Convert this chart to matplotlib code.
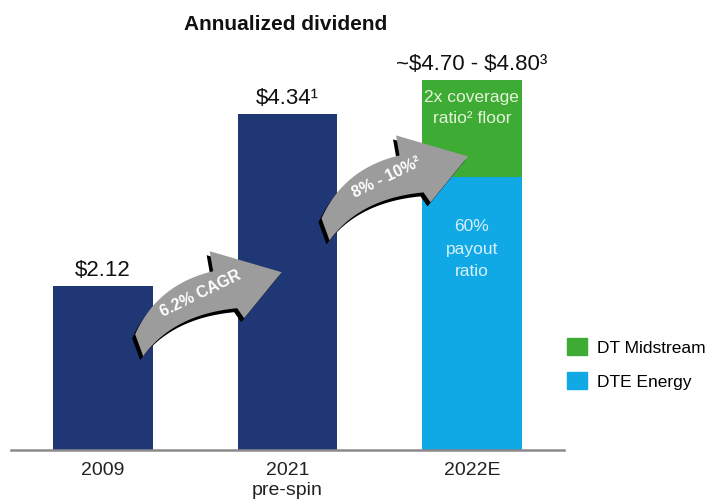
import numpy as np
import matplotlib
matplotlib.use('Agg')
import matplotlib.pyplot as plt
from matplotlib.patches import Polygon, Patch
from matplotlib.transforms import IdentityTransform

years = ['2009', '2021\npre-spin', '2022E']
dividend = [2.12, 4.34]
dte_energy = 3.52
dt_midstream = 1.26
value_labels = [r'\$2.12', '\\$4.34\u00b9', '~\\$4.70 - \\$4.80\u00b3']
growth_labels = ['6.2% CAGR', '8% - 10%\u00b2']
growth_tails = [(0.198, 1.353), (1.209, 2.848)]
series_names = ['DT Midstream', 'DTE Energy']

navy = '#1f3775'
green = '#3dab34'
blue = '#10a9e6'
arrow_gray = '#9c9c9c'

plt.rcParams['font.family'] = ['Liberation Sans', 'DejaVu Sans']

fig = plt.figure(figsize=(7.11, 5.02), dpi=100)
ax = fig.add_axes([11 / 711, 51 / 502, 553 / 711, 426 / 502])
pos = np.arange(len(years))
width = 0.54

ax.bar(pos[:2], dividend, width, color=navy)
ax.bar(pos[2], dte_energy, width, color=blue)
ax.bar(pos[2], dt_midstream, width, bottom=dte_energy, color=green)

ax.set_xlim(-0.5, 2.5)
ax.set_ylim(0, 5.5)
ax.set_xticks(pos)
ax.set_xticklabels(years, fontsize=14, color='#222222', linespacing=1.2)
ax.tick_params(length=0, pad=8)
ax.set_yticks([])
for side in ['top', 'right', 'left']:
    ax.spines[side].set_visible(False)
ax.spines['bottom'].set_color('#8a8a8a')
ax.spines['bottom'].set_linewidth(1.8)

# dollar labels above each bar
tops = dividend + [dte_energy + dt_midstream]
for x, top, txt in zip(pos, tops, value_labels):
    ax.annotate(txt, (x, top), xytext=(0, 6), textcoords='offset pixels',
                ha='center', va='bottom', fontsize=16, color='#111111')

# text inside the stacked bar
ax.annotate('2x coverage\nratio\u00b2 floor', (pos[2], dte_energy + dt_midstream),
            xytext=(0, -9), textcoords='offset pixels', ha='center', va='top',
            fontsize=12.5, color='#e4f4da', linespacing=1.55)
ax.annotate('60%\npayout\nratio', (pos[2], dte_energy),
            xytext=(0, -41), textcoords='offset pixels', ha='center', va='top',
            fontsize=12.5, color='#d6f0fb', linespacing=1.6)


def bezier(a, c, b, t):
    return (1 - t) ** 2 * a + 2 * t * (1 - t) * c + t ** 2 * b


def curved_arrow(x, y, label):
    # outline in pixels from the tail centre (y up); body widens toward the head
    t = np.linspace(0, 1, 40)[:, None]
    upper = bezier(np.array([-4.5, 11.0]), np.array([18.0, 61.0]),
                   np.array([73.5, 74.0]), t)
    lower = bezier(np.array([3.5, -11.0]), np.array([34.0, 31.0]),
                   np.array([97.5, 37.0]), t)
    head = [(104.5, 27.0), (142.0, 73.0), (70.0, 94.0)]
    pts = np.vstack([lower, head, upper[::-1]])
    origin = ax.transData.transform((x, y))
    for off, col in [((-3.0, -4.0), 'black'), ((0.0, 0.0), arrow_gray)]:
        ax.add_patch(Polygon(pts + origin + np.array(off), closed=True,
                             transform=IdentityTransform(), fc=col, ec='none',
                             zorder=5))
    ax.annotate(label, (x, y), xytext=(61, 53), textcoords='offset pixels',
                ha='center', va='center', rotation=26, fontsize=11.5,
                fontweight='bold', color='white', zorder=6)


for (x, y), label in zip(growth_tails, growth_labels):
    curved_arrow(x, y, label)

fig.text(286 / 711, 1 - 25 / 502, 'Annualized dividend', ha='center', va='center',
         fontsize=15, fontweight='bold', color='#111111')

handles = [Patch(color=green), Patch(color=blue)]
fig.legend(handles, series_names, loc='upper left',
           bbox_to_anchor=(567 / 711, 1 - 339 / 502), frameon=False,
           fontsize=12.5, handlelength=1.15, handleheight=1.15,
           handletextpad=0.55, labelspacing=0.95, borderpad=0, borderaxespad=0)

fig.savefig('out.png', dpi=100)
